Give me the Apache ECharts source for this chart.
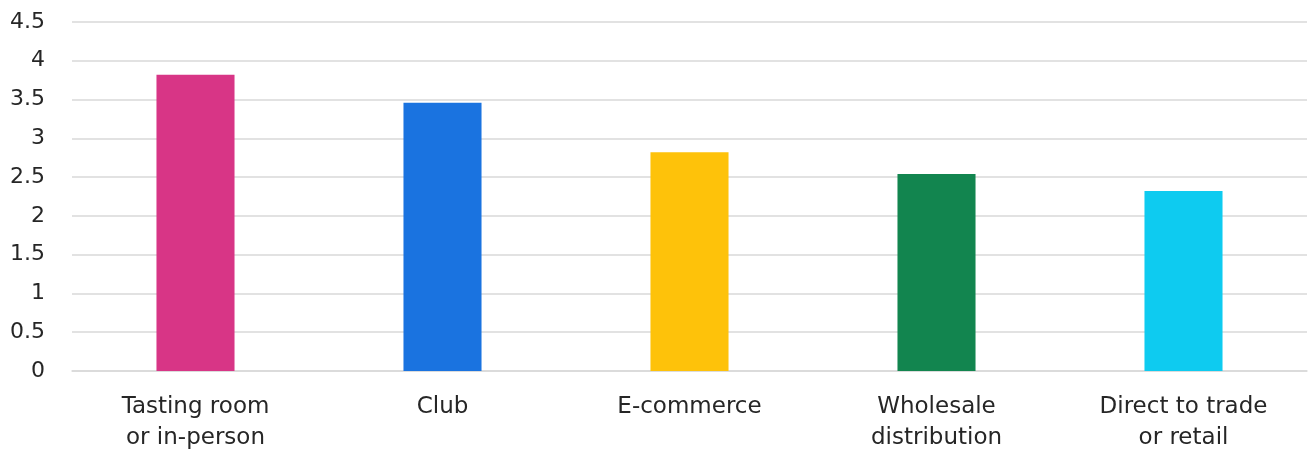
<!DOCTYPE html>
<html>
<head>
<meta charset="utf-8">
<script src="https://cdn.jsdelivr.net/npm/echarts@6/dist/echarts.min.js"></script>
<style>
  html, body { margin: 0; padding: 0; background: #fff; }
  #chart { width: 1308px; height: 454px; }
</style>
</head>
<body>
<div id="chart"></div>
<script>
// Sales channels and their average scores
const categories = ['Tasting room\nor in-person', 'Club', 'E-commerce', 'Wholesale\ndistribution', 'Direct to trade\nor retail'];
const values = [3.82, 3.46, 2.82, 2.54, 2.32];
const barColors = ['#D83586', '#1A73E0', '#FEC20A', '#12854F', '#0ECBF0'];

const chart = echarts.init(document.getElementById('chart'), null, { renderer: 'canvas' });

chart.setOption({
  animation: false,
  grid: { left: 72, right: 1, top: 22, bottom: 83, containLabel: false },
  xAxis: {
    type: 'category',
    data: categories,
    axisLine: { lineStyle: { color: '#d9d9d9', width: 1.5 } },
    axisTick: { show: false },
    axisLabel: {
      margin: 21,
      fontFamily: 'DejaVu Sans',
      fontWeight: 'normal',
      fontSize: 23,
      lineHeight: 31,
      color: '#262626',
      interval: 0
    }
  },
  yAxis: {
    type: 'value',
    min: 0,
    max: 4.5,
    interval: 0.5,
    axisLine: { show: false },
    axisTick: { show: false },
    splitLine: { lineStyle: { color: '#d9d9d9', width: 1.5 } },
    axisLabel: {
      margin: 27,
      fontFamily: 'DejaVu Sans',
      fontSize: 22,
      color: '#262626'
    }
  },
  series: [{
    type: 'bar',
    data: values.map((v, i) => ({ value: v, itemStyle: { color: barColors[i] } })),
    barWidth: '31.6%'
  }]
});
</script>
</body>
</html>
